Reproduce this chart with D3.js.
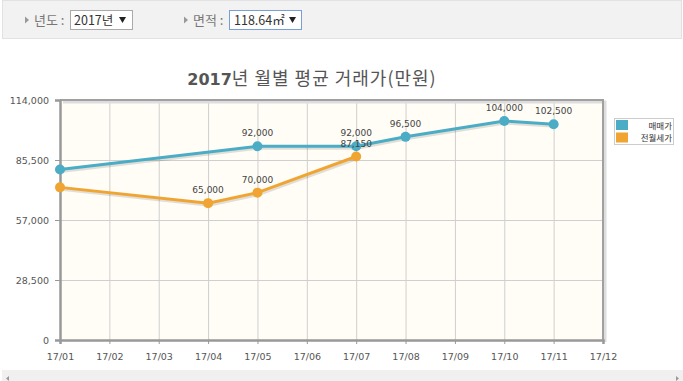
<!DOCTYPE html>
<html><head><meta charset="utf-8">
<script src="https://cdn.jsdelivr.net/npm/d3@7"></script>
<style>
html,body{margin:0;padding:0;background:#fff;}
svg{display:block;font-family:'Noto Sans CJK KR','DejaVu Sans',sans-serif;}
</style></head>
<body><svg id="c" width="683" height="381"></svg>
<script>
const months = ["17/01","17/02","17/03","17/04","17/05","17/06","17/07","17/08","17/09","17/10","17/11","17/12"];
const saleValues = [81000,null,null,null,92000,null,92000,96500,null,104000,102500,null];
const rentValues = [72500,null,null,65000,70000,null,87150,null,null,null,null,null];
const yTicks = [0,28500,57000,85500,114000];
const seriesNames = ["매매가","전월세가"];
const seriesColors = ["#4bacc6","#f0a533"];
const titleYear = "2017";
const titleRest = "년 월별 평균 거래가(만원)";

const svg = d3.select("#c");
const fmt = d3.format(",");

// top filter panel
svg.append("rect").attr("x",2.5).attr("y",0.5).attr("width",679).attr("height",38)
  .attr("fill","#f2f2f2").attr("stroke","#e2e2e2");
function tri(x,y){svg.append("path").attr("d",`M${x},${y-3.5}L${x+4},${y}L${x},${y+3.5}Z`).attr("fill","#999");}
function down(x,y){svg.append("path").attr("d",`M${x},${y}L${x+7},${y}L${x+3.5},${y+6}Z`).attr("fill","#222");}
tri(25,20); tri(184,20);
svg.append("text").attr("x",34).attr("y",25).attr("font-size",13).attr("fill","#777").text("년도 :");
svg.append("rect").attr("x",70.5).attr("y",10.5).attr("width",62).attr("height",19).attr("fill","#fff").attr("stroke","#aaa");
svg.append("text").attr("x",74).attr("y",25).attr("font-size",12.5).attr("fill","#333").text("2017년");
down(119,17);
svg.append("text").attr("x",193).attr("y",25).attr("font-size",13).attr("fill","#777").text("면적 :");
svg.append("rect").attr("x",229.5).attr("y",10.5).attr("width",72).attr("height",19).attr("fill","#fff").attr("stroke","#7a9fd6");
svg.append("text").attr("x",234).attr("y",25).attr("font-size",12.5).attr("fill","#333").text("118.64㎡");
down(289,17);

// title
const t = svg.append("text").attr("x",312).attr("y",85).attr("text-anchor","middle").attr("font-size",18).attr("letter-spacing",1).attr("fill","#555");
t.append("tspan").attr("font-weight","bold").attr("font-family","'DejaVu Sans',sans-serif").attr("font-size",16).attr("letter-spacing",0).text(titleYear);
t.append("tspan").text(titleRest);

// scales
const x = d3.scalePoint().domain(months).range([60,603]);
const y = d3.scaleLinear().domain([0,114000]).range([340,100]);

// plot background
svg.append("rect").attr("x",x(months[0])).attr("y",y(114000)).attr("width",x(months[11])-x(months[0])).attr("height",y(0)-y(114000)).attr("fill","#fffdf5");

// grid
svg.append("g").selectAll("line").data(months.slice(1,11)).join("line")
  .attr("x1",d=>x(d)+0.5).attr("x2",d=>x(d)+0.5).attr("y1",y(114000)).attr("y2",y(0)).attr("stroke","#cfcfcf");
svg.append("g").selectAll("line").data(yTicks.slice(1,4)).join("line")
  .attr("x1",x(months[0])).attr("x2",x(months[11])).attr("y1",d=>y(d)+0.5).attr("y2",d=>y(d)+0.5).attr("stroke","#cfcfcf");

// frame shadow + border (top, right)
svg.append("path").attr("d",`M${x(months[0])+3},${y(114000)+2}H${x(months[11])+2}V${y(0)+2}`).attr("fill","none").attr("stroke","#ddd").attr("stroke-width",3);
svg.append("path").attr("d",`M${x(months[0])},${y(114000)}H${x(months[11])}V${y(0)}`).attr("fill","none").attr("stroke","#a0a0a0").attr("stroke-width",2);

// axes
const xAxis = d3.axisBottom(x).tickSize(4).tickPadding(9);
const gx = svg.append("g").attr("transform",`translate(0,${y(0)})`).call(xAxis);
gx.select(".domain").attr("stroke","#999").attr("stroke-width",2.5);
gx.selectAll(".tick line").attr("stroke","#999");
gx.selectAll("text").attr("font-size",9.5).attr("fill","#555").attr("font-family","'DejaVu Sans',sans-serif");

const yAxis = d3.axisLeft(y).tickValues(yTicks).tickFormat(d=>fmt(d)).tickSize(5).tickPadding(6);
const gy = svg.append("g").attr("transform",`translate(${x(months[0])},0)`).call(yAxis);
gy.select(".domain").attr("stroke","#999").attr("stroke-width",2.5);
gy.selectAll(".tick line").attr("stroke","#999");
gy.selectAll("text").attr("font-size",9.5).attr("fill","#555").attr("font-family","'DejaVu Sans',sans-serif");

// series
const series = [saleValues, rentValues];
const line = d3.line().x(d=>x(d.m)).y(d=>y(d.v));
series.forEach((vals,i)=>{
  const pts = months.map((m,j)=>({m, v:vals[j], j})).filter(d=>d.v!==null);
  const g = svg.append("g");
  g.append("path").datum(pts).attr("d",line).attr("fill","none").attr("stroke","rgba(0,0,0,0.12)").attr("stroke-width",3).attr("transform","translate(1,2)");
  g.append("path").datum(pts).attr("d",line).attr("fill","none").attr("stroke",seriesColors[i]).attr("stroke-width",3);
  g.selectAll("circle").data(pts).join("circle").attr("cx",d=>x(d.m)).attr("cy",d=>y(d.v)).attr("r",5).attr("fill",seriesColors[i]);
  g.selectAll("text").data(pts.filter(d=>d.j>0)).join("text")
    .attr("x",d=>x(d.m)).attr("y",d=>y(d.v)-10).attr("text-anchor","middle")
    .attr("font-size",9).attr("fill","#444").attr("font-family","'DejaVu Sans',sans-serif").text(d=>fmt(d.v));
});

// legend
const lg = svg.append("g");
lg.append("rect").attr("x",614.5).attr("y",118.5).attr("width",59).attr("height",26).attr("fill","#fff").attr("stroke","#ccc");
seriesNames.forEach((n,i)=>{
  lg.append("rect").attr("x",616).attr("y",120+i*12.5).attr("width",12).attr("height",10).attr("fill",seriesColors[i]);
  lg.append("text").attr("x",672).attr("y",128.5+i*12.5).attr("text-anchor","end").attr("font-size",8.5).attr("fill","#333").text(n);
});

// bottom scrollbar
svg.append("rect").attr("x",2).attr("y",370).attr("width",681).attr("height",11).attr("fill","#f0f0f0");
svg.append("path").attr("d","M9,376L6,378.5L9,381Z").attr("fill","#999");
svg.append("path").attr("d","M676,376L679,378.5L676,381Z").attr("fill","#999");
</script></body></html>
